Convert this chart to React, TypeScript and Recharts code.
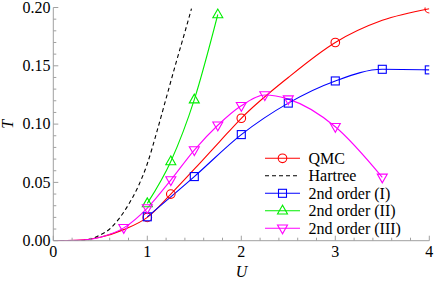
import React from "react";
import { ComposedChart, Line, XAxis, YAxis } from "recharts";

// ---------- data ----------
const qmcCurveU = [0, 0.25, 0.5, 0.75, 1, 1.25, 1.56, 1.77, 2, 2.5, 3, 3.5, 4];
const qmcCurveT = [0, 0.0003, 0.003, 0.0095, 0.02, 0.04, 0.0666, 0.085, 0.105, 0.14, 0.17, 0.189, 0.199];
const qmcMarkU = [1, 1.25, 2, 3, 4];
const qmcMarkT = [0.02, 0.04, 0.105, 0.17, 0.199];

const hartreeU = [0, 0.3, 0.4, 0.5, 0.6, 0.7, 0.8, 0.9, 1.0, 1.1, 1.2, 1.3, 1.4, 1.47];
const hartreeT = [0, 0.0002, 0.0015, 0.005, 0.01, 0.019, 0.031, 0.046, 0.066, 0.093, 0.122, 0.151, 0.179, 0.199];

const ord1U = [1, 1.5, 2, 2.5, 3, 3.5, 4];
const ord1T = [0.0205, 0.055, 0.091, 0.118, 0.137, 0.147, 0.1465];

const ord2U = [1, 1.25, 1.5, 1.75];
const ord2T = [0.032, 0.068, 0.121, 0.194];

const ord3CurveU = [0, 0.25, 0.5, 0.75, 1, 1.25, 1.5, 1.75, 2, 2.25, 2.5, 3, 3.5];
const ord3CurveT = [0, 0.0003, 0.003, 0.011, 0.028, 0.052, 0.0777, 0.099, 0.1157, 0.1249, 0.1214, 0.0977, 0.0543];
const ord3MarkU = [0.75, 1, 1.25, 1.5, 1.75, 2, 2.25, 2.5, 3, 3.5];
const ord3MarkT = [0.011, 0.028, 0.052, 0.0777, 0.099, 0.1157, 0.1249, 0.1214, 0.0977, 0.0543];

const xMajorTicks = [0, 1, 2, 3, 4];
const xMinorTicks = [0.2, 0.4, 0.6, 0.8, 1.2, 1.4, 1.6, 1.8, 2.2, 2.4, 2.6, 2.8, 3.2, 3.4, 3.6, 3.8];
const yMajorTicks = [0, 0.05, 0.1, 0.15, 0.2];
const yMinorTicks = [0.01, 0.02, 0.03, 0.04, 0.06, 0.07, 0.08, 0.09, 0.11, 0.12, 0.13, 0.14, 0.16, 0.17, 0.18, 0.19];

const legendLabels = ["QMC", "Hartree", "2nd order (I)", "2nd order (II)", "2nd order (III)"];

// ---------- styles ----------
const RED = "#ff0000";
const BLUE = "#0000ff";
const GREEN = "#00ee00";
const MAGENTA = "#ff00ff";
const FRAME = "#a0a0a0";
const textStyle = { fontFamily: "Liberation Serif" };

const zip = (us: number[], ts: number[]) => us.map((u, i) => ({ u, t: ts[i] }));

const xAll = [...xMajorTicks, ...xMinorTicks].sort((a, b) => a - b);
const yAll = [...yMajorTicks, ...yMinorTicks].sort((a, b) => a - b);
const isXMajor = (v: number) => Math.abs(v - Math.round(v)) < 1e-6;
const isYMajor = (v: number) => Math.abs(v * 20 - Math.round(v * 20)) < 1e-6;

const MAJ = 5;
const MIN = 3;

const BottomTick = (p: any) => {
  const v = p.payload.value;
  const major = isXMajor(v);
  return (
    <g>
      <line x1={p.x} x2={p.x} y1={p.y} y2={p.y - (major ? MAJ : MIN)} stroke={FRAME} />
      {major && (
        <text x={p.x} y={p.y + 16} textAnchor="middle" style={textStyle} fontSize={16} fill="#000">
          {String(v)}
        </text>
      )}
    </g>
  );
};
const TopTick = (p: any) => {
  const v = p.payload.value;
  const major = isXMajor(v);
  return <line x1={p.x} x2={p.x} y1={p.y} y2={p.y + (major ? MAJ : MIN)} stroke={FRAME} />;
};
const LeftTick = (p: any) => {
  const v = p.payload.value;
  const major = isYMajor(v);
  return (
    <g>
      <line x1={p.x} x2={p.x + (major ? MAJ : MIN)} y1={p.y} y2={p.y} stroke={FRAME} />
      {major && (
        <text x={p.x - 2.8} y={p.y + 5.3} textAnchor="end" style={textStyle} fontSize={16} fill="#000">
          {v.toFixed(2)}
        </text>
      )}
    </g>
  );
};
const RightTick = (p: any) => {
  const v = p.payload.value;
  const major = isYMajor(v);
  return <line x1={p.x} x2={p.x - (major ? MAJ : MIN)} y1={p.y} y2={p.y} stroke={FRAME} />;
};

const Marker = ({ kind, cx, cy, color }: { kind: string; cx: number; cy: number; color: string }) => {
  if (cx == null || cy == null) return null;
  if (kind === "circle") return <circle cx={cx} cy={cy} r={4.3} fill="none" stroke={color} strokeWidth={1.1} />;
  if (kind === "square")
    return <rect x={cx - 4} y={cy - 4} width={8} height={8} fill="none" stroke={color} strokeWidth={1.1} />;
  if (kind === "up")
    return (
      <polygon
        points={`${cx},${cy - 5.5} ${cx - 5},${cy + 3.3} ${cx + 5},${cy + 3.3}`}
        fill="none"
        stroke={color}
        strokeWidth={1.1}
      />
    );
  return (
    <polygon
      points={`${cx},${cy + 5.5} ${cx - 5},${cy - 3.3} ${cx + 5},${cy - 3.3}`}
      fill="none"
      stroke={color}
      strokeWidth={1.1}
    />
  );
};

const dotFor = (kind: string, color: string) => (p: any) =>
  <Marker key={`${kind}-${p.index}`} kind={kind} cx={p.cx} cy={p.cy} color={color} />;

const series = [
  { key: "qmc", curve: zip(qmcCurveU, qmcCurveT), marks: zip(qmcMarkU, qmcMarkT), color: RED, kind: "circle", dash: undefined },
  { key: "hartree", curve: zip(hartreeU, hartreeT), marks: null, color: "#000", kind: "", dash: "4 3" },
  { key: "o1", curve: zip(ord1U, ord1T), marks: zip(ord1U, ord1T), color: BLUE, kind: "square", dash: undefined },
  { key: "o2", curve: zip(ord2U, ord2T), marks: zip(ord2U, ord2T), color: GREEN, kind: "up", dash: undefined },
  { key: "o3", curve: zip(ord3CurveU, ord3CurveT), marks: zip(ord3MarkU, ord3MarkT), color: MAGENTA, kind: "down", dash: undefined },
];

const legendRowsY = [158.3, 175.7, 193.3, 210.7, 228.3];

export default function App() {
  return (
    <div style={{ position: "absolute", left: 0, top: 0, width: 436, height: 285, background: "#fff" }}>
      <ComposedChart width={436} height={285} margin={{ top: 7.5, right: 6.7, bottom: 0, left: 0 }}>
        <XAxis
          xAxisId="b"
          dataKey="u"
          type="number"
          domain={[0, 4]}
          ticks={xAll}
          interval={0}
          tickLine={false}
          tickSize={0}
          tickMargin={0}
          tick={BottomTick}
          axisLine={{ stroke: FRAME }}
          height={44.3}
          orientation="bottom"
          allowDataOverflow
        />
        <XAxis
          xAxisId="t"
          dataKey="u"
          type="number"
          domain={[0, 4]}
          ticks={xAll}
          interval={0}
          tickLine={false}
          tickSize={0}
          tickMargin={0}
          tick={TopTick}
          axisLine={{ stroke: FRAME }}
          height={0}
          orientation="top"
          allowDataOverflow
        />
        <YAxis
          yAxisId="l"
          dataKey="t"
          type="number"
          domain={[0, 0.2]}
          ticks={yAll}
          interval={0}
          tickLine={false}
          tickSize={0}
          tickMargin={0}
          tick={LeftTick}
          axisLine={{ stroke: FRAME }}
          width={53.3}
          orientation="left"
          allowDataOverflow
        />
        <YAxis
          yAxisId="r"
          dataKey="t"
          type="number"
          domain={[0, 0.2]}
          ticks={yAll}
          interval={0}
          tickLine={false}
          tickSize={0}
          tickMargin={0}
          tick={RightTick}
          axisLine={{ stroke: FRAME }}
          width={0}
          orientation="right"
          allowDataOverflow
        />
        {series.map((s) => (
          <Line
            key={s.key + "-curve"}
            xAxisId="b"
            yAxisId="l"
            data={s.curve}
            dataKey="t"
            type="monotone"
            stroke={s.color}
            strokeWidth={1.1}
            strokeDasharray={s.dash}
            dot={false}
            activeDot={false}
            isAnimationActive={false}
          />
        ))}
        {series
          .filter((s) => s.marks)
          .map((s) => (
            <Line
              key={s.key + "-marks"}
              xAxisId="b"
              yAxisId="l"
              data={s.marks as any}
              dataKey="t"
              stroke="none"
              dot={dotFor(s.kind, s.color)}
              activeDot={false}
              isAnimationActive={false}
            />
          ))}
      </ComposedChart>
      <svg
        width={436}
        height={285}
        style={{ position: "absolute", left: 0, top: 0, pointerEvents: "none" }}
      >
        <text x={241.5} y={276.5} textAnchor="middle" style={textStyle} fontStyle="italic" fontSize={16} fill="#000">
          U
        </text>
        <text
          x={13}
          y={124.4}
          transform="rotate(-90 13 124.4)"
          textAnchor="middle"
          style={textStyle}
          fontStyle="italic"
          fontSize={16}
          fill="#000"
        >
          T
        </text>
        {series.map((s, i) => (
          <g key={s.key + "-leg"}>
            <line
              x1={265}
              x2={300}
              y1={legendRowsY[i]}
              y2={legendRowsY[i]}
              stroke={s.color}
              strokeWidth={1.1}
              strokeDasharray={s.dash}
            />
            {s.kind && <Marker kind={s.kind} cx={282.5} cy={legendRowsY[i]} color={s.color} />}
            <text x={308.5} y={legendRowsY[i] + 5.5} style={textStyle} fontSize={16} fill="#000">
              {legendLabels[i]}
            </text>
          </g>
        ))}
      </svg>
    </div>
  );
}
